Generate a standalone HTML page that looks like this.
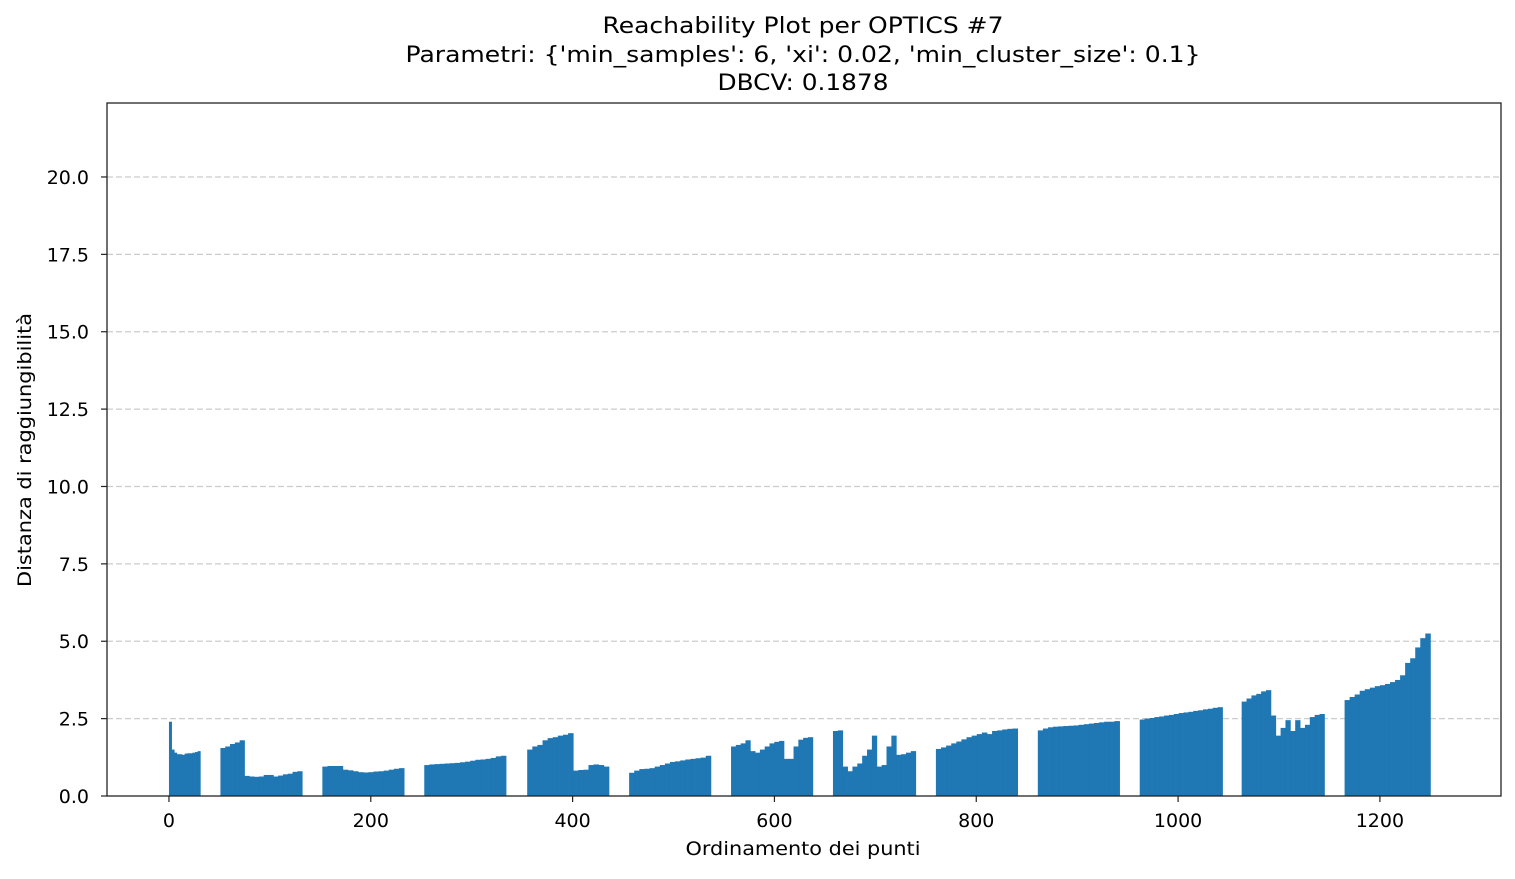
<!DOCTYPE html>
<html><head><meta charset="utf-8"><style>
body{margin:0;background:#fff;font-family:"Liberation Sans","DejaVu Sans",sans-serif}
svg text{font-family:"DejaVu Sans","Liberation Sans",sans-serif;fill:#000}
</style></head><body>
<svg id="c" width="1515" height="874">
<text x="803" y="33" text-anchor="middle" font-size="22" textLength="401" lengthAdjust="spacingAndGlyphs">Reachability Plot per OPTICS #7</text>
<text x="803" y="62" text-anchor="middle" font-size="22" textLength="795" lengthAdjust="spacingAndGlyphs">Parametri: {'min_samples': 6, 'xi': 0.02, 'min_cluster_size': 0.1}</text>
<text x="803" y="90" text-anchor="middle" font-size="22" textLength="171" lengthAdjust="spacingAndGlyphs">DBCV: 0.1878</text>
<g id="grid"></g><g id="bars"></g><g id="axes"></g>
<text x="803" y="855" text-anchor="middle" font-size="19" textLength="235" lengthAdjust="spacingAndGlyphs">Ordinamento dei punti</text>
<text transform="translate(31,450) rotate(-90)" text-anchor="middle" font-size="19" textLength="274" lengthAdjust="spacingAndGlyphs">Distanza di raggiungibilità</text>
</svg>
<script>
const segStarts = [0,51,152,253,355,456,557,658,760,861,962,1063,1165];
const segEnds   = [31,132,233,334,436,537,638,740,841,942,1044,1145,1250];
const segA = [2.4,1.5,1.4,1.35,1.35,1.33,1.37,1.38,1.38,1.4,1.42,1.45];
const segB = [1.55,1.6,1.68,1.73,1.8,0.65,0.63,0.62,0.63,0.68,0.68,0.63,0.66,0.7,0.72,0.78,0.8];
const segC = [0.95,0.97,0.97,0.97,0.85,0.83,0.8,0.77,0.76,0.77,0.79,0.8,0.82,0.85,0.88,0.9];
const segD = [1.0,1.02,1.03,1.04,1.05,1.06,1.07,1.09,1.11,1.14,1.17,1.18,1.2,1.23,1.28,1.3];
const segE = [1.5,1.6,1.65,1.8,1.87,1.9,1.95,1.98,2.03,0.82,0.84,0.85,1.0,1.02,1.0,0.95];
const segF = [0.75,0.82,0.87,0.88,0.9,0.95,1.0,1.05,1.1,1.12,1.15,1.18,1.2,1.22,1.24,1.3];
const segG = [1.6,1.65,1.7,1.8,1.45,1.4,1.5,1.6,1.7,1.75,1.78,1.2,1.2,1.6,1.82,1.88,1.9];
const segH = [2.1,2.12,0.95,0.8,0.95,1.05,1.3,1.5,1.95,0.95,1.0,1.6,1.95,1.33,1.35,1.4,1.45];
const segI = [1.52,1.57,1.63,1.7,1.76,1.83,1.9,1.95,2.0,2.05,2.0,2.1,2.12,2.15,2.17,2.18];
const segJ = [2.12,2.18,2.22,2.24,2.25,2.26,2.27,2.28,2.3,2.32,2.34,2.36,2.38,2.4,2.4,2.42];
const segK = [2.47,2.5,2.52,2.55,2.57,2.6,2.62,2.65,2.68,2.7,2.72,2.75,2.77,2.8,2.82,2.85,2.87];
const segL = [3.05,3.15,3.25,3.3,3.38,3.42,2.6,1.95,2.2,2.45,2.1,2.45,2.2,2.3,2.55,2.62,2.65];
const segM = [3.1,3.2,3.28,3.4,3.45,3.5,3.55,3.58,3.62,3.68,3.75,3.9,4.3,4.45,4.8,5.1,5.25];
const segValues = [segA,segB,segC,segD,segE,segF,segG,segH,segI,segJ,segK,segL,segM];
const xTicks = [0,200,400,600,800,1000,1200];
const yTicks = [0,2.5,5,7.5,10,12.5,15,17.5,20];
const yTickLabels = ["0.0","2.5","5.0","7.5","10.0","12.5","15.0","17.5","20.0"];

const L=107,R=1501,T=103,B=796, xmin=-61.4, xmax=1320, ymin=0, ymax=22.39;
const sx=v=>L+(v-xmin)/(xmax-xmin)*(R-L);
const sy=v=>B-(v-ymin)/(ymax-ymin)*(B-T);
const NS='http://www.w3.org/2000/svg';
function mk(tag,parent,attrs){const e=document.createElementNS(NS,tag);for(const k in attrs)e.setAttribute(k,attrs[k]);parent.appendChild(e);return e;}
const grid=document.getElementById('grid'),bars=document.getElementById('bars'),axes=document.getElementById('axes');
yTicks.forEach((t,i)=>{
  if(i>0){const g=mk('line',grid,{x1:L,x2:R,y1:sy(t),y2:sy(t),stroke:'#cccccc','stroke-dasharray':'6,3','stroke-width':1.3});
  
  }
  const tk=mk('line',axes,{x1:L-6,x2:L,y1:sy(t),y2:sy(t),stroke:'#222','stroke-width':1.2});
  
  
  const tx=mk('text',axes,{x:L-18,y:sy(t)+7,'text-anchor':'end','font-size':19});
  
  
  tx.textContent=yTickLabels[i];
});
segValues.forEach((vals,s)=>{
  const a=segStarts[s],b=segEnds[s],w=(b-a)/vals.length;
  vals.forEach((v,i)=>{
    const x0=sx(a+i*w),x1=sx(a+(i+1)*w);
    const r=mk('rect',bars,{x:x0,y:sy(v),width:x1-x0+0.4,height:sy(0)-sy(v),fill:'#1f77b4'});
    
    
  });
});
xTicks.forEach(t=>{
  const tk=mk('line',axes,{x1:sx(t),x2:sx(t),y1:B,y2:B+6,stroke:'#222','stroke-width':1.2});
  
  
  const tx=mk('text',axes,{x:sx(t),y:B+31,'text-anchor':'middle','font-size':19});
  
  
  tx.textContent=t;
});
const f=mk('rect',axes,{x:L,y:T,width:R-L,height:B-T,fill:'none',stroke:'#222','stroke-width':1.3});


</script>
</body></html>
